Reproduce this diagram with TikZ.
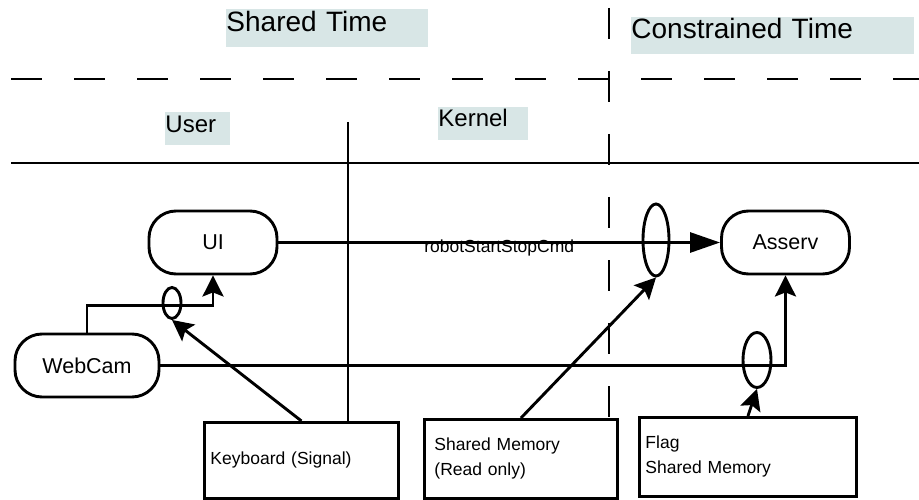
\documentclass[tikz,border=0pt]{standalone}
\usepackage{fontspec}
\setmainfont{Liberation Sans}
\usepackage{tikz}
\usepackage{xcolor}
\usetikzlibrary{arrows.meta,calc,positioning,shapes.geometric}
\definecolor{softteal}{RGB}{216,230,230}

\begin{document}
\begin{tikzpicture}[
  x=1pt, y=-1pt,
  line width=2.9pt,
  tag/.style={fill=softteal, inner sep=0pt, anchor=north west, align=left},
  proc/.style={draw, rounded corners=27pt, minimum width=128pt, minimum height=63pt, inner sep=0pt, font=\fontsize{21.5}{26}\selectfont},
  store/.style={draw, anchor=north west, inner xsep=6pt, inner ysep=0pt, align=left, font=\fontsize{17.5}{25}\selectfont},
  lock/.style={draw, ellipse, inner sep=0pt},
  arr/.style={-{Stealth[length=21pt, width=21pt, inset=4pt]}},
  bigarr/.style={-{Triangle[length=30pt, width=20pt]}},
  sep/.style={dash pattern=on 31pt off 32pt}
]
\useasboundingbox (0,0) rectangle (919,500);
\node[tag, text width=202pt, text height=22pt, text depth=16pt, font=\fontsize{28}{34}\selectfont] (shared) at (225,8) {Shared Time};
\node[tag, text width=283pt, text height=21pt, text depth=16pt, font=\fontsize{28}{34}\selectfont] (constrained) at (630,16) {Constrained Time};
\node[tag, text width=65pt, text height=20pt, text depth=13pt, font=\fontsize{24}{29}\selectfont] (user) at (164,111) {User};
\node[tag, text width=90pt, text height=19pt, text depth=14pt, font=\fontsize{24}{29}\selectfont] (kernel) at (437,106) {Kernel};
\draw[sep] (11,79) -- (919,79);
\draw (11,163) -- (919,163);
\node[proc] (ui) at (213,242.5) {UI};
\node[proc] (asserv) at (785.5,242.5) {Asserv};
\node[proc, minimum width=144pt] (webcam) at (87,365.5) {WebCam};
\node[store, text width=182pt, minimum height=76pt] (keyboard) at (203,421) {Keyboard (Signal)};
\node[store, inner xsep=10pt, text width=173pt, minimum height=79pt] (shm) at (423,418) {Shared Memory\\(Read only)};
\node[store, text width=205pt, minimum height=79pt] (flag) at (638,416) {Flag\\Shared Memory};
\coordinate (zone) at (609,8);
\draw[sep] (zone) -- (zone |- shm.north);
\coordinate (split) at (348,122);
\draw (split) -- (split |- keyboard.north);
\node[lock, minimum width=26pt, minimum height=72pt] (lockcmd) at (656,240) {};
\node[lock, minimum width=18pt, minimum height=31pt] (lockkey) at (172,303) {};
\node[lock, minimum width=28pt, minimum height=55pt] (lockflag) at (757,360) {};
\draw[bigarr] (ui.east) -- node[anchor=base, yshift=-10pt, font=\fontsize{17.5}{21}\selectfont] (cmd) {robotStartStopCmd} (asserv.west);
\coordinate (join) at ($(ui.south)+(0,30)$);
\draw[arr] (webcam.north) |- (join) -- (ui.south);
\draw[arr] (keyboard.north) -- (lockkey.south);
\draw[arr] (shm.north) -- (lockcmd.south);
\draw[arr] (webcam.east) -| (asserv.south);
\draw[arr] (flag.north) -- (lockflag.south);
\end{tikzpicture}
\end{document}
